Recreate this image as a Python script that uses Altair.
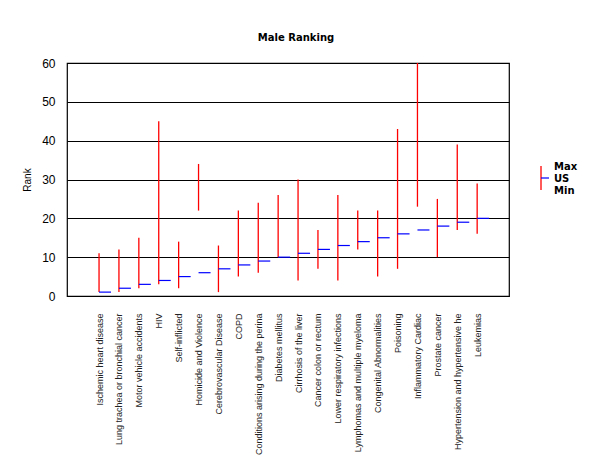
import altair as alt
import pandas as pd
import json

categories = [
    "Ischemic heart disease", "Lung trachea or bronchial cancer", "Motor vehicle accidents",
    "HIV", "Self-inflicted", "Homicide and Violence", "Cerebrovascular Disease", "COPD",
    "Conditions arising during the perina", "Diabetes mellitus", "Cirrhosis of the liver",
    "Cancer colon or rectum", "Lower respiratory infections", "Lymphomas and multiple myeloma",
    "Congenital Abnormalities", "Poisoning", "Inflammatory Cardiac", "Prostate cancer",
    "Hypertension and hypertensive he", "Leukemias",
]
max_rank = [11, 12, 15, 45, 14, 34, 13, 22, 24, 26, 30, 17, 26, 22, 22, 43, 60, 25, 39, 29]
us_rank = [1, 2, 3, 4, 5, 6, 7, 8, 9, 10, 11, 12, 13, 14, 15, 16, 17, 18, 19, 20]
min_rank = [1, 1, 2, 3, 2, 22, 1, 5, 6, 10, 4, 7, 4, 12, 5, 7, 23, 10, 17, 16]
y_ticks = [0, 10, 20, 30, 40, 50, 60]

legend_labels = ["Max", "US", "Min"]

df = pd.DataFrame({"idx": list(range(len(categories))), "cause": categories,
                   "max": max_rank, "us": us_rank, "min": min_rank})
one = pd.DataFrame({"k": [0]})

FONT = "Liberation Sans"
BOLD_FONT = "DejaVu Sans"

x_scale = alt.Scale(domain=[-1.61, 20.6], nice=False, zero=False)
y_scale = alt.Scale(domain=[0, 60], nice=False)

label_expr = json.dumps(categories) + "[datum.value]"

x_axis = alt.Axis(values=list(range(len(categories))), labelExpr=label_expr,
                  labelAngle=-90, labelAlign="right", labelBaseline="middle",
                  labelPadding=17, ticks=False, domain=False, grid=False, labelFontSize=9,
                  labelFont=FONT, labelColor="#222222", labelLimit=300, labelOverlap=False)
y_axis = alt.Axis(values=y_ticks, grid=True, gridColor="#000000",
                  gridOpacity=1, gridWidth=1, ticks=False, domain=False,
                  labelFontSize=12, labelFont=FONT, labelColor="#000000", labelPadding=12,
                  titleFont=FONT, titleFontSize=10, titleFontWeight="normal",
                  titleColor="#000000", titlePadding=9)

ranges = alt.Chart(df).mark_rule(color="#ff0000", strokeWidth=1.3).encode(
    x=alt.X("idx:Q", title=None, scale=x_scale, axis=x_axis),
    y=alt.Y("min:Q", scale=y_scale, title="Rank", axis=y_axis),
    y2="max:Q",
)

us = alt.Chart(df).mark_tick(color="#0000ff", orient="horizontal", size=12, thickness=1.2,
                             xOffset=6, opacity=1).encode(
    x=alt.X("idx:Q", title=None, scale=x_scale, axis=x_axis),
    y=alt.Y("us:Q", scale=y_scale, title="Rank", axis=y_axis),
)

leg_red = alt.Chart(one).mark_rule(color="#ff0000", strokeWidth=1.3).encode(
    x=alt.value(474), y=alt.value(103), y2=alt.value(127)
)
leg_blue = alt.Chart(one).mark_rule(color="#0000ff", strokeWidth=1.2).encode(
    x=alt.value(474), x2=alt.value(482), y=alt.value(115)
)
leg_texts = [
    alt.Chart(one).mark_text(align="left", baseline="middle", fontSize=10,
                             fontWeight="bold", font=BOLD_FONT, color="#000000", text=lab).encode(
        x=alt.value(487), y=alt.value(104 + 12 * i)
    )
    for i, lab in enumerate(legend_labels)
]

chart = alt.layer(ranges, us, leg_red, leg_blue, *leg_texts).properties(
    width=442, height=233,
    autosize=alt.AutoSizeParams(type="none"),
    padding={"left": 59, "top": 55, "right": 83, "bottom": 160},
    background="white",
    title=alt.TitleParams("Male Ranking", font=BOLD_FONT, fontSize=10, fontWeight="bold",
                          color="#000000", anchor="middle", offset=14, dx=8),
).configure_view(stroke="#000000", strokeWidth=1.2)

chart.save("out.html", embed_options={"renderer": "svg", "actions": False})
